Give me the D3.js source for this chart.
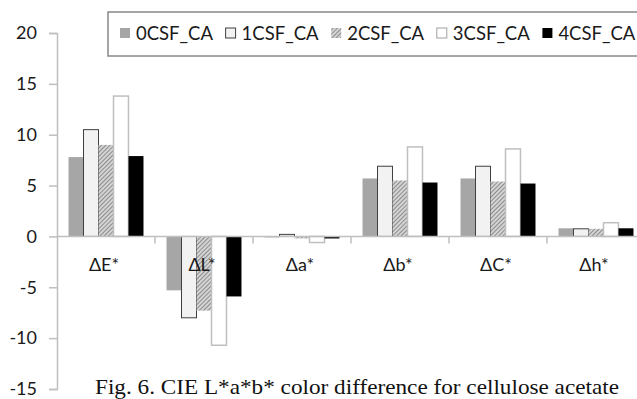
<!DOCTYPE html>
<html>
<head>
<meta charset="utf-8">
<script src="https://cdn.jsdelivr.net/npm/d3@7"></script>
<style>
  html, body { margin: 0; padding: 0; background: #fff; }
  svg { display: block; }
</style>
</head>
<body>
<div id="chart"></div>
<script>
// Data
const categories = ['ΔE*', 'ΔL*', 'Δa*', 'Δb*', 'ΔC*', 'Δh*'];
const seriesNames = ['0CSF_CA', '1CSF_CA', '2CSF_CA', '3CSF_CA', '4CSF_CA'];
const s0 = [7.8, -5.3, -0.1, 5.7, 5.7, 0.8];
const s1 = [10.5, -8.0, 0.2, 6.9, 6.9, 0.75];
const s2 = [9.0, -7.3, -0.2, 5.5, 5.4, 0.75];
const s3 = [13.8, -10.7, -0.6, 8.8, 8.6, 1.35];
const s4 = [7.9, -5.9, -0.2, 5.3, 5.2, 0.8];
const yTicks = [-15, -10, -5, 0, 5, 10, 15, 20];
const caption = 'Fig. 6. CIE L*a*b* color difference for cellulose acetate';

const seriesValues = [s0, s1, s2, s3, s4];
const styles = [
  { fill: '#a6a6a6', stroke: 'none', sw: 0 },
  { fill: '#f2f2f2', stroke: '#404040', sw: 1 },
  { fill: 'url(#hatch)', stroke: 'none', sw: 0 },
  { fill: '#ffffff', stroke: '#bfbfbf', sw: 1.5 },
  { fill: '#000000', stroke: 'none', sw: 0 },
];

const width = 637, height = 399;
const font = 'Lato, "Open Sans", sans-serif';

const svg = d3.select('#chart').append('svg')
  .attr('width', width)
  .attr('height', height);

const defs = svg.append('defs');
const pat = defs.append('pattern')
  .attr('id', 'hatch')
  .attr('patternUnits', 'userSpaceOnUse')
  .attr('width', 3).attr('height', 3)
  .attr('patternTransform', 'rotate(45)');
pat.append('rect').attr('width', 3).attr('height', 3).attr('fill', '#d4d4d4');
pat.append('line').attr('x1', 0).attr('y1', 0).attr('x2', 0).attr('y2', 3)
  .attr('stroke', '#7a7a7a').attr('stroke-width', 1.6);

const y = d3.scaleLinear().domain([-15, 20]).range([389, 33]);
const x0 = d3.scaleBand().domain(categories).range([57, 645])
  .paddingInner(0.235).paddingOuter(0.1175);
const x1 = d3.scaleBand().domain(seriesNames).range([0, x0.bandwidth()]);

// y axis (plain hyphen for negatives, like the original)
const yAxis = svg.append('g').attr('transform', 'translate(57,0)')
  .call(d3.axisLeft(y).tickValues(yTicks).tickSize(8).tickPadding(12)
    .tickFormat(d => String(d)));
yAxis.select('.domain').attr('stroke', '#bfbfbf').attr('stroke-width', 1.5);
yAxis.selectAll('.tick line').attr('stroke', '#bfbfbf').attr('stroke-width', 1.5);
yAxis.selectAll('.tick text')
  .attr('font-family', font).attr('font-size', 18).attr('fill', '#1a1a1a');

// bars
seriesValues.forEach((vals, si) => {
  svg.append('g').selectAll('rect')
    .data(vals)
    .enter().append('rect')
    .attr('x', (d, i) => x0(categories[i]) + x1(seriesNames[si]))
    .attr('y', d => y(Math.max(0, d)))
    .attr('width', x1.bandwidth())
    .attr('height', d => Math.abs(y(d) - y(0)))
    .attr('fill', styles[si].fill)
    .attr('stroke', styles[si].stroke)
    .attr('stroke-width', styles[si].sw);
});

// x axis line with ticks at category boundaries
const step = x0.step();
svg.append('line')
  .attr('x1', 57).attr('x2', width).attr('y1', y(0)).attr('y2', y(0))
  .attr('stroke', '#bfbfbf').attr('stroke-width', 1.5);
svg.append('g').selectAll('line')
  .data(categories.slice(1))
  .enter().append('line')
  .attr('x1', d => x0(d) - step * x0.paddingInner() / 2)
  .attr('x2', d => x0(d) - step * x0.paddingInner() / 2)
  .attr('y1', y(0)).attr('y2', y(0) + 7)
  .attr('stroke', '#bfbfbf').attr('stroke-width', 1.5);
svg.append('g').selectAll('text')
  .data(categories)
  .enter().append('text')
  .attr('x', d => x0(d) + x0.bandwidth() / 2 - 2)
  .attr('y', 271)
  .attr('text-anchor', 'middle')
  .attr('font-family', font).attr('font-size', 18).attr('fill', '#1a1a1a')
  .text(d => d);

// legend (runs off the right edge in the original)
const legend = svg.append('g');
legend.append('rect')
  .attr('x', 108).attr('y', 12).attr('width', 560).attr('height', 44)
  .attr('fill', '#fff').attr('stroke', '#888').attr('stroke-width', 1.5);
seriesNames.forEach((name, i) => {
  const lx = 120 + i * 105.6;
  legend.append('rect')
    .attr('x', lx).attr('y', 28).attr('width', 10).attr('height', 10)
    .attr('fill', styles[i].fill)
    .attr('stroke', i === 1 ? '#404040' : (i === 3 ? '#a0a0a0' : 'none'))
    .attr('stroke-width', 1);
  legend.append('text')
    .attr('x', lx + 16).attr('y', 40)
    .attr('font-family', font).attr('font-size', 18.5).attr('fill', '#1a1a1a')
    .text(name);
});

// caption
svg.append('text')
  .attr('x', 95).attr('y', 394)
  .attr('font-family', '"Liberation Serif", "DejaVu Serif", serif')
  .attr('font-size', 22).attr('fill', '#111')
  .attr('textLength', 524).attr('lengthAdjust', 'spacingAndGlyphs')
  .text(caption);
</script>
</body>
</html>
